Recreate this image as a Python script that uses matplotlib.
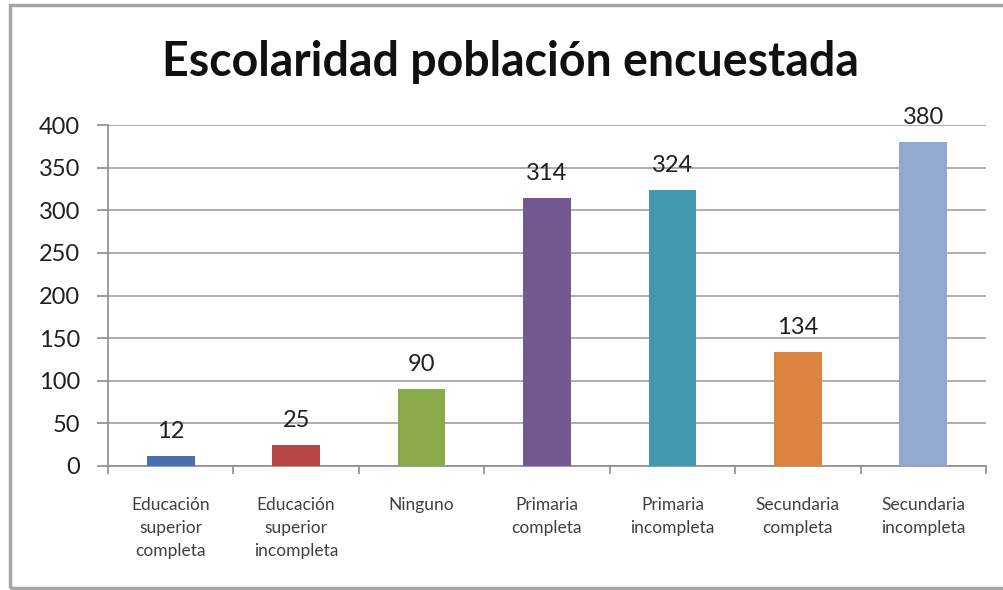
import matplotlib.pyplot as plt
from matplotlib.patches import Rectangle

# data
categories = ['Educación\nsuperior\ncompleta', 'Educación\nsuperior\nincompleta',
              'Ninguno', 'Primaria\ncompleta', 'Primaria\nincompleta',
              'Secundaria\ncompleta', 'Secundaria\nincompleta']
counts = [12, 25, 90, 314, 324, 134, 380]
bar_colors = ['#4A72AA', '#B94646', '#8AAA4C', '#735892', '#4298AE', '#DB843D', '#92A9CF']
yticks = [0, 50, 100, 150, 200, 250, 300, 350, 400]

plt.rcParams['font.family'] = ['Lato', 'DejaVu Sans']

fig = plt.figure(figsize=(10.04, 5.90), dpi=100)
# outer frame of the chart
fig.patches.append(Rectangle((10 / 1004, 2 / 590), 1.1, 583 / 590, transform=fig.transFigure,
                             fill=False, edgecolor='#A6A6A6', linewidth=2.5))
ax = fig.add_axes([108 / 1004, 1 - 466 / 590, 878 / 1004, 341 / 590])

x = range(len(categories))
bars = ax.bar(x, counts, width=0.38, color=bar_colors, zorder=3)
for xi, v in zip(x, counts):
    ax.annotate(str(v), xy=(xi, v), xytext=(0, 10), textcoords='offset points',
                ha='center', va='bottom', fontsize=17, color='#202020')

ax.set_xlim(-0.5, len(categories) - 0.5)
ax.set_ylim(0, 400)
ax.set_yticks(yticks)
ax.tick_params(axis='y', labelsize=17, labelcolor='#202020', length=8, color='#8C8C8C',
               width=1.2, pad=12)
ax.yaxis.grid(True, color='#A0A0A0', linewidth=1.2, zorder=0)

ax.set_xticks([i for i in x])
ax.set_xticklabels(categories, fontsize=12.5, color='#404040', linespacing=1.55)
ax.tick_params(axis='x', length=0, pad=22)
ax.set_xticks([i - 0.5 for i in range(len(categories) + 1)], minor=True)
ax.tick_params(axis='x', which='minor', length=6, color='#8C8C8C', width=1.2)

for s in ['top', 'right']:
    ax.spines[s].set_visible(False)
for s in ['left', 'bottom']:
    ax.spines[s].set_color('#8C8C8C')
    ax.spines[s].set_linewidth(1.2)

fig.text(0.508, 1 - 62 / 590, 'Escolaridad población encuestada', ha='center', va='center',
         fontsize=33.5, fontweight='bold', color='#101010')

fig.savefig('out.png', dpi=100)
